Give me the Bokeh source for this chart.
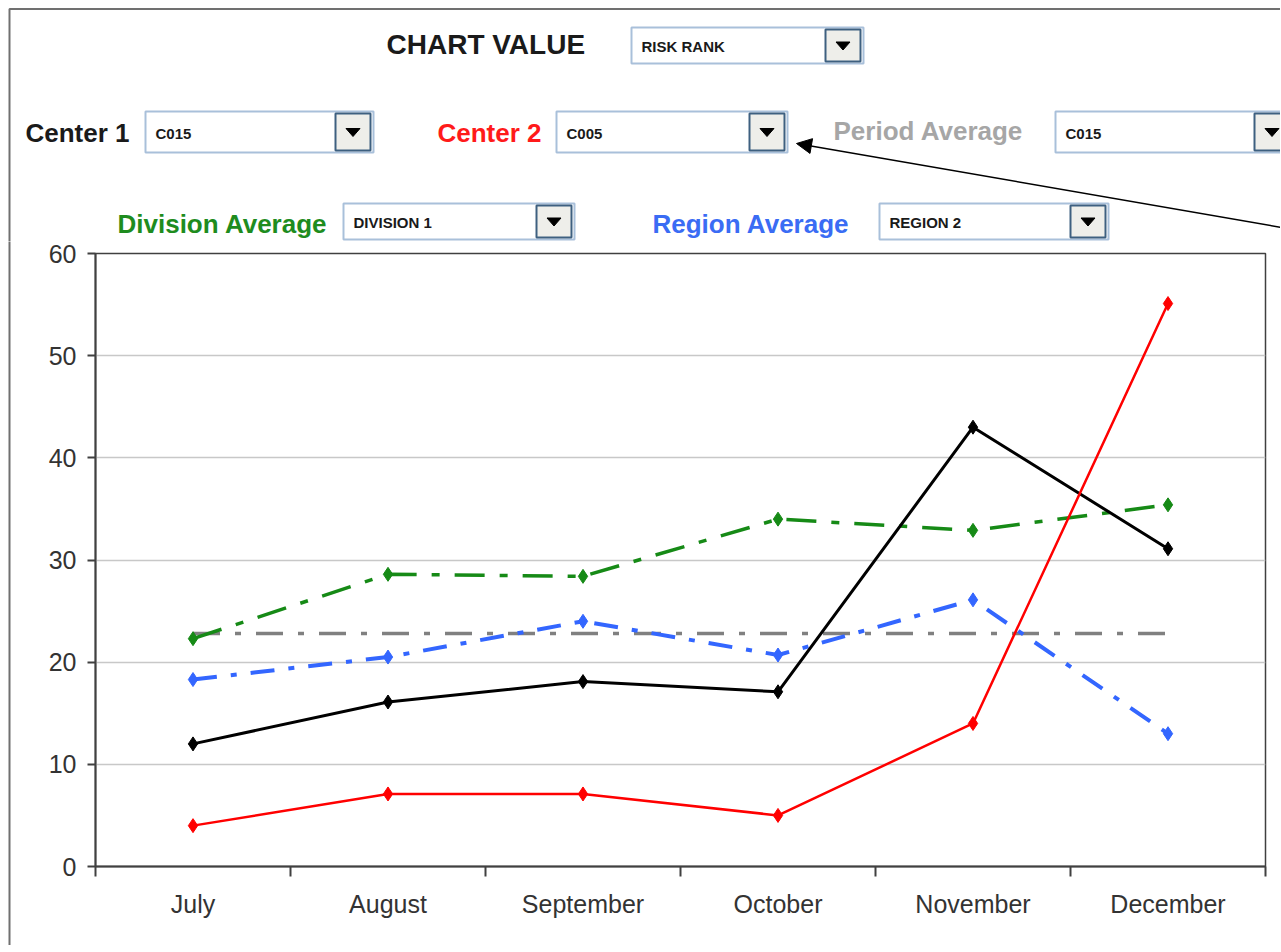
from bokeh.plotting import figure
from bokeh.layouts import column, row
from bokeh.models import (FixedTicker, Arrow, NormalHead, Range1d)
from bokeh.core.properties import value
from bokeh.embed import file_html
from bokeh.resources import INLINE

# ---------------- data ----------------
months = ["July", "August", "September", "October", "November", "December"]
center1 = [12.0, 16.1, 18.1, 17.1, 43.0, 31.1]
center2 = [4.0, 7.1, 7.1, 5.0, 14.0, 55.1]
division_avg = [22.3, 28.6, 28.4, 34.0, 32.9, 35.4]
region_avg = [18.3, 20.5, 24.0, 20.7, 26.1, 13.0]
period_avg = [22.8, 22.8, 22.8, 22.8, 22.8, 22.8]
y_ticks = [0, 10, 20, 30, 40, 50, 60]

chart_value_label = "CHART VALUE"
chart_value = "RISK RANK"
center1_label, center1_value = "Center 1", "C015"
center2_label, center2_value = "Center 2", "C005"
period_label, period_value = "Period Average", "C015"
division_label, division_value = "Division Average", "DIVISION 1"
region_label, region_value = "Region Average", "REGION 2"

# ---------------- layout ----------------
W = 1280
HH = 241                 # header height (page y 0..241)
LS = 12                  # left border strip width
H2 = 704                 # chart height (page y 241..945)
HB = 5                   # bottom border strip height (page y 945..950)
ML, MR, MT, MB = 95 - LS, 15, 253 - HH, HH + H2 - 866
FONT = "Liberation Sans"
BORDER = "#707070"
BX = 9                   # page x of the outer border line


def blank(width, height, flip=True):
    f = figure(width=width, height=height, output_backend="svg", toolbar_location=None,
               tools="", x_range=Range1d(0, width),
               y_range=Range1d(height, 0) if flip else Range1d(0, height),
               x_axis_type=None, y_axis_type=None,
               min_border_left=0, min_border_right=0, min_border_top=0,
               min_border_bottom=0, frame_align=False)
    f.outline_line_color = None
    f.grid.visible = False
    f.background_fill_color = "white"
    f.border_fill_color = "white"
    return f


# ================= header (pixel-space figure) =================
h = blank(W, HH)
h.line([BX, BX, W + 5], [HH + 5, 8.5, 8.5], line_color=BORDER, line_width=2)


def text(px, py, s, color, size, bold=True):
    h.text(x=[px], y=[py], text=[s], text_color=color, text_font=value(FONT),
           text_font_size=size, text_font_style="bold" if bold else "normal",
           text_align="left", text_baseline="middle")


def dropdown(x0, y0, x1, y1, s):
    h.quad(left=[x0], right=[x1], top=[y0], bottom=[y1], fill_color="white",
           line_color="#a9c0da", line_width=2)
    bx0, bx1 = x1 - 38, x1 - 3
    by0, by1 = y0 + 2, y1 - 2
    h.quad(left=[bx0], right=[bx1], top=[by0], bottom=[by1], fill_color="#eeeeea",
           line_color="#3e6080", line_width=2)
    cx, cy = (bx0 + bx1) / 2, (by0 + by1) / 2
    h.patches(xs=[[cx - 7, cx + 7, cx]], ys=[[cy - 3.5, cy - 3.5, cy + 4.5]],
              fill_color="black", line_color="black", line_width=1)
    text(x0 + 10, (y0 + y1) / 2 + 1, s, "#1a1a1a", "15px", bold=True)


text(386, 44, chart_value_label, "#1a1a1a", "28px")
dropdown(631, 27, 863, 63, chart_value)

text(25, 132, center1_label, "#1a1a1a", "26px")
dropdown(145, 111, 373, 152, center1_value)

text(437, 132, center2_label, "#ff1a1a", "26px")
dropdown(556, 111, 787, 152, center2_value)

text(833, 130, period_label, "#a6a6a6", "26px")
dropdown(1055, 111, 1292, 152, period_value)

text(117, 223, division_label, "#1e8c1e", "26px")
dropdown(343, 203, 574, 239, division_value)

text(652, 223, region_label, "#3a6cf4", "26px")
dropdown(879, 203, 1108, 239, region_value)

h.add_layout(Arrow(end=NormalHead(size=15, fill_color="black", line_color="black"),
                   x_start=1290, y_start=228.5, x_end=796, y_end=143,
                   line_color="black", line_width=1.5))

# ================= left border strip =================
ls = blank(LS, H2)
ls.line([BX, BX], [-5, H2 + 5], line_color=BORDER, line_width=2)

# ================= chart =================
xs = [i + 0.5 for i in range(len(months))]

p = figure(width=W - LS, height=H2, output_backend="svg", toolbar_location=None, tools="",
           x_range=Range1d(0, len(months)), y_range=Range1d(0, 60),
           min_border_left=ML, min_border_right=MR, min_border_top=MT,
           min_border_bottom=MB, frame_align=False)
p.background_fill_color = "white"
p.border_fill_color = "white"
p.outline_line_color = "#404040"
p.outline_line_width = 1.5

xa = p.xaxis[0]
xa.ticker = FixedTicker(ticks=xs, minor_ticks=list(range(len(months) + 1)))
xa.major_label_overrides = {x: m for x, m in zip(xs, months)}
xa.major_tick_out = 0
xa.major_tick_in = 0
xa.minor_tick_out = 10
xa.minor_tick_in = 0
xa.minor_tick_line_color = "#404040"
xa.minor_tick_line_width = 2
xa.axis_line_color = "#404040"
xa.axis_line_width = 2
xa.major_label_text_font = FONT
xa.major_label_text_font_size = "25px"
xa.major_label_text_color = "#333333"
xa.major_label_standoff = 13

ya = p.yaxis[0]
ya.ticker = FixedTicker(ticks=y_ticks)
ya.minor_tick_line_color = None
ya.major_tick_out = 8
ya.major_tick_in = 0
ya.major_tick_line_color = "#404040"
ya.major_tick_line_width = 2
ya.axis_line_color = "#404040"
ya.axis_line_width = 2
ya.major_label_text_font = FONT
ya.major_label_text_font_size = "25px"
ya.major_label_text_color = "#333333"
ya.major_label_standoff = 11

p.xgrid.grid_line_color = None
p.ygrid.grid_line_color = "#c8c8c8"
p.ygrid.grid_line_width = 1.5

p.line(xs, period_avg, line_color="#808080", line_width=3.5, line_dash="27 15 6 15")

p.line(xs, region_avg, line_color="#3366ff", line_width=4, line_dash="24 14 6 14")
p.scatter(xs, region_avg, marker="diamond", size=14, color="#3366ff")

p.line(xs, division_avg, line_color="#168a16", line_width=3.5, line_dash="30 15 8 15")
p.scatter(xs, division_avg, marker="diamond", size=14, color="#168a16")

p.line(xs, center1, line_color="black", line_width=3)
p.scatter(xs, center1, marker="diamond", size=14, color="black")

p.line(xs, center2, line_color="#ff0000", line_width=2.5)
p.scatter(xs, center2, marker="diamond", size=14, color="#ff0000")

# ================= bottom border strip =================
bs = blank(W, HB)
bs.line([BX, BX, W + 5], [-5, 3.5, 3.5], line_color=BORDER, line_width=2)

layout = column(h, row(ls, p, spacing=0), bs, spacing=0)
open("out.html", "w").write(file_html(layout, INLINE))
